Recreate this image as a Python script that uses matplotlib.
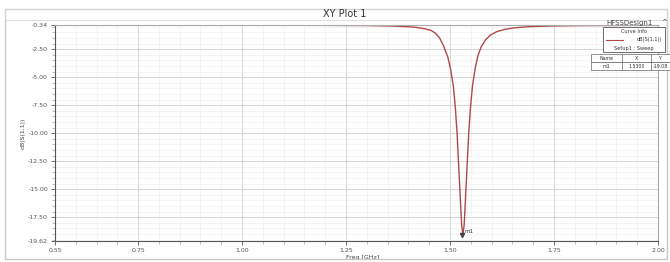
import matplotlib
matplotlib.use('Agg')
import matplotlib.pyplot as plt
from matplotlib.patches import Rectangle

# S11 curve
freq = [0.55, 0.80, 1.00, 1.20, 1.30, 1.36, 1.40, 1.42, 1.44, 1.455, 1.465, 1.475,
        1.485, 1.495, 1.502, 1.508, 1.513, 1.517, 1.521, 1.525, 1.528, 1.531,
        1.534, 1.537, 1.541, 1.545, 1.549, 1.554, 1.560, 1.567, 1.575, 1.585,
        1.597, 1.612, 1.630, 1.655, 1.690, 1.740, 1.80, 1.90, 2.00]
s11 = [-0.36, -0.36, -0.37, -0.38, -0.40, -0.44, -0.50, -0.57, -0.69, -0.85, -1.08, -1.50,
       -2.25, -3.25, -4.40, -5.80, -7.80, -10.00, -13.00, -16.00, -18.20, -19.08,
       -18.20, -16.00, -13.00, -10.00, -7.80, -5.80, -4.30, -3.10, -2.30, -1.70,
       -1.25, -0.95, -0.75, -0.60, -0.50, -0.44, -0.41, -0.39, -0.38]

xticks = [0.55, 0.75, 1.00, 1.25, 1.50, 1.75, 2.00]
yticks = [-0.34, -2.50, -5.00, -7.50, -10.00, -12.50, -15.00, -17.50, -19.62]
marker_x, marker_y = 1.5300, -19.08

fig = plt.figure(figsize=(6.7, 2.62), dpi=100)
fig.patch.set_facecolor('white')
# outer frame
fig.add_artist(Rectangle((0.008, 0.012), 0.988, 0.955, transform=fig.transFigure,
                         fill=False, ec='#c8c8c8', lw=1.0))
fig.add_artist(Rectangle((0.008, 0.925), 0.988, 0.042, transform=fig.transFigure,
                         fill=False, ec='#d8d8d8', lw=0.6))
fig.text(0.515, 0.946, 'XY Plot 1', ha='center', va='center', fontsize=7, color='#333333')
fig.text(0.94, 0.912, 'HFSSDesign1', ha='center', va='center', fontsize=5, color='#444444')
fig.text(0.992, 0.915, '^', ha='center', va='center', fontsize=5, color='#444444')

ax = fig.add_axes([0.082, 0.080, 0.900, 0.825])
ax.plot(freq, s11, color='#b04848', lw=1.0)
ax.set_xlim(0.55, 2.00)
ax.set_ylim(-19.62, -0.34)

ax.set_xticks(xticks)
ax.set_xticklabels(['%.2f' % v for v in xticks])
ax.set_yticks(yticks)
ax.set_yticklabels(['%.2f' % v for v in yticks])
ax.set_xticks([0.55 + 0.05 * i for i in range(30)], minor=True)
ax.set_yticks([-0.5 * i for i in range(1, 40)], minor=True)
ax.tick_params(axis='both', labelsize=4.5, colors='#555555', length=3, width=0.6, pad=2)
ax.tick_params(which='minor', length=2, width=0.4, colors='#888888')
ax.grid(True, which='major', color='#cfcfcf', lw=0.6)
ax.grid(True, which='minor', color='#ededed', lw=0.4)
for side in ['top', 'right']:
    ax.spines[side].set_color('#aaaaaa')
for side in ['left', 'bottom']:
    ax.spines[side].set_color('#555555')
    ax.spines[side].set_linewidth(0.8)

ax.set_ylabel('dB(S(1,1))', fontsize=4.5, color='#444444', labelpad=2)
ax.text(1.25, -20.9, 'Freq [GHz]', fontsize=4.5, color='#444444', ha='left', va='top')

# marker m1
ax.plot([marker_x], [marker_y], marker='v', color='#444444', ms=3)
ax.text(marker_x + 0.004, marker_y + 0.15, 'm1', fontsize=4, color='#333333')

# curve info box
fig.add_artist(Rectangle((0.900, 0.800), 0.092, 0.097, transform=fig.transFigure,
                         fc='white', ec='#555555', lw=0.6))
fig.text(0.946, 0.880, 'Curve Info', ha='center', va='center', fontsize=3.6, color='#333333')
fig.add_artist(plt.Line2D([0.905, 0.93], [0.848, 0.848], transform=fig.transFigure,
                          color='#b04848', lw=0.8))
fig.text(0.988, 0.848, 'dB(S(1,1))', ha='right', va='center', fontsize=3.6, color='#333333')
fig.text(0.946, 0.815, 'Setup1 : Sweep', ha='center', va='center', fontsize=3.6, color='#333333')

# marker table
fig.add_artist(Rectangle((0.882, 0.762), 0.118, 0.030, transform=fig.transFigure,
                         fc='white', ec='#666666', lw=0.5))
fig.add_artist(Rectangle((0.882, 0.732), 0.118, 0.030, transform=fig.transFigure,
                         fc='white', ec='#666666', lw=0.5))
for xv in [0.928, 0.972]:
    fig.add_artist(plt.Line2D([xv, xv], [0.732, 0.792], transform=fig.transFigure,
                              color='#666666', lw=0.5))
fig.text(0.905, 0.777, 'Name', ha='center', va='center', fontsize=3.4, color='#333333')
fig.text(0.950, 0.777, 'X', ha='center', va='center', fontsize=3.4, color='#333333')
fig.text(0.986, 0.777, 'Y', ha='center', va='center', fontsize=3.4, color='#333333')
fig.text(0.905, 0.747, 'm1', ha='center', va='center', fontsize=3.4, color='#333333')
fig.text(0.950, 0.747, '%.4f' % marker_x, ha='center', va='center', fontsize=3.4, color='#333333')
fig.text(0.975, 0.747, '%.2f' % marker_y, ha='left', va='center', fontsize=3.4, color='#333333')

fig.savefig('out.png', dpi=100, facecolor='white')
